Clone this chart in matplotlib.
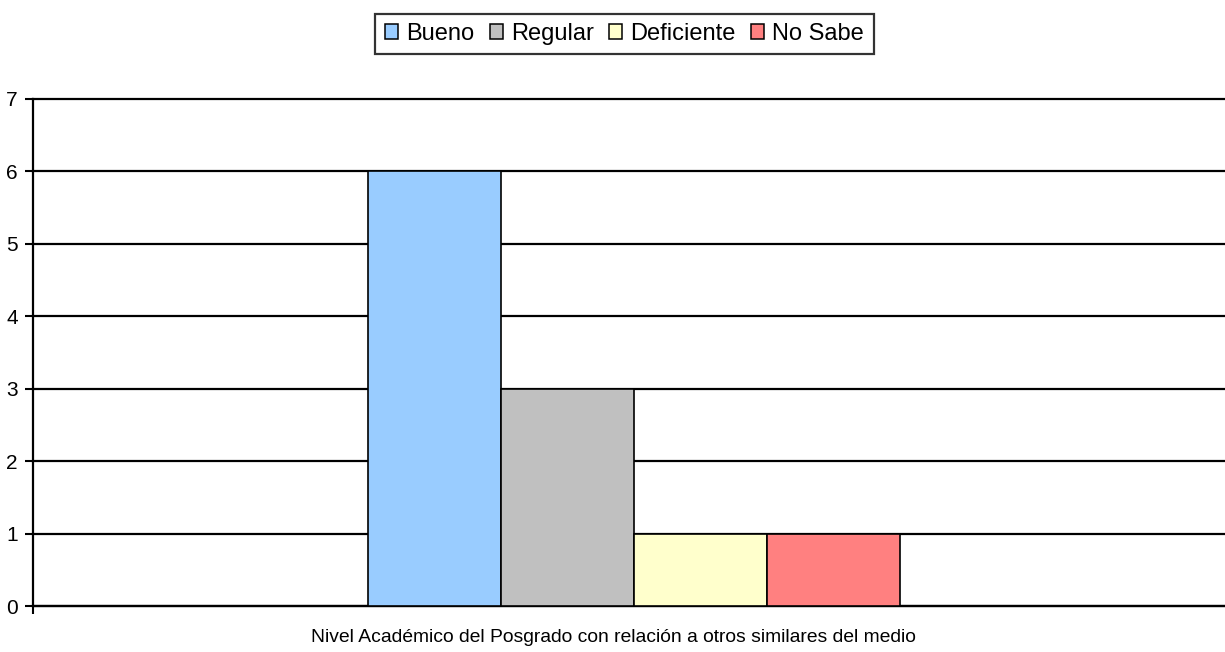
import matplotlib
matplotlib.use("Agg")
import matplotlib.pyplot as plt
from matplotlib.patches import Patch

categories = ["Bueno", "Regular", "Deficiente", "No Sabe"]
values = [6, 3, 1, 1]
colors = ["#99CCFF", "#C0C0C0", "#FFFFCC", "#FF8080"]
yticks = [0, 1, 2, 3, 4, 5, 6, 7]
xlabel = "Nivel Académico del Posgrado con relación a otros similares del medio"

plt.rcParams['font.family'] = ['Liberation Sans', 'DejaVu Sans']

W, H = 1225, 652
fig = plt.figure(figsize=(W / 100, H / 100), dpi=100)
ax = fig.add_axes([33 / W, 1 - 606 / H, 1 - 33 / W, (606 - 99) / H])

positions = list(range(len(categories)))
ax.bar(positions, values, width=1.0, color=colors, edgecolor="black", linewidth=1.2, zorder=3)

ax.set_ylim(0, 7)
ax.set_xlim(-3.02, 5.94)
ax.set_yticks(yticks)
ax.set_yticklabels([str(t) for t in yticks], fontsize=15)
ax.yaxis.grid(True, color="black", linewidth=1.6, zorder=0)
for gl in ax.get_ygridlines():
    gl.set_clip_on(False)
ax.set_axisbelow(True)
ax.set_xticks([-3.02])
ax.set_xticklabels([""])
ax.tick_params(axis="x", length=6, width=1.5, direction="out")
ax.tick_params(axis="y", length=6, width=1.5, direction="out", pad=5)
for s in ["top", "right"]:
    ax.spines[s].set_visible(False)
ax.spines["left"].set_linewidth(1.6)
ax.spines["bottom"].set_linewidth(1.6)

ax.set_xlabel(xlabel, fontsize=13.85)
ax.xaxis.set_label_coords((613 - 33) / (W - 33), -(637 - 606) / (606 - 99), transform=ax.transAxes)
ax.xaxis.label.set_verticalalignment("center")

handles = [Patch(facecolor=c, edgecolor="black", linewidth=1.1) for c in colors]
leg = fig.legend(handles, categories, loc="center", bbox_to_anchor=(624.5 / W, 1 - 34 / H),
                 ncol=4, fontsize=17, frameon=True, fancybox=False, handlelength=0.55,
                 handleheight=0.6, handletextpad=0.35, columnspacing=0.65, borderpad=0.4,
                 borderaxespad=0)
leg.get_frame().set_edgecolor("black")
leg.get_frame().set_linewidth(1.6)

fig.savefig("out.png", dpi=100)
